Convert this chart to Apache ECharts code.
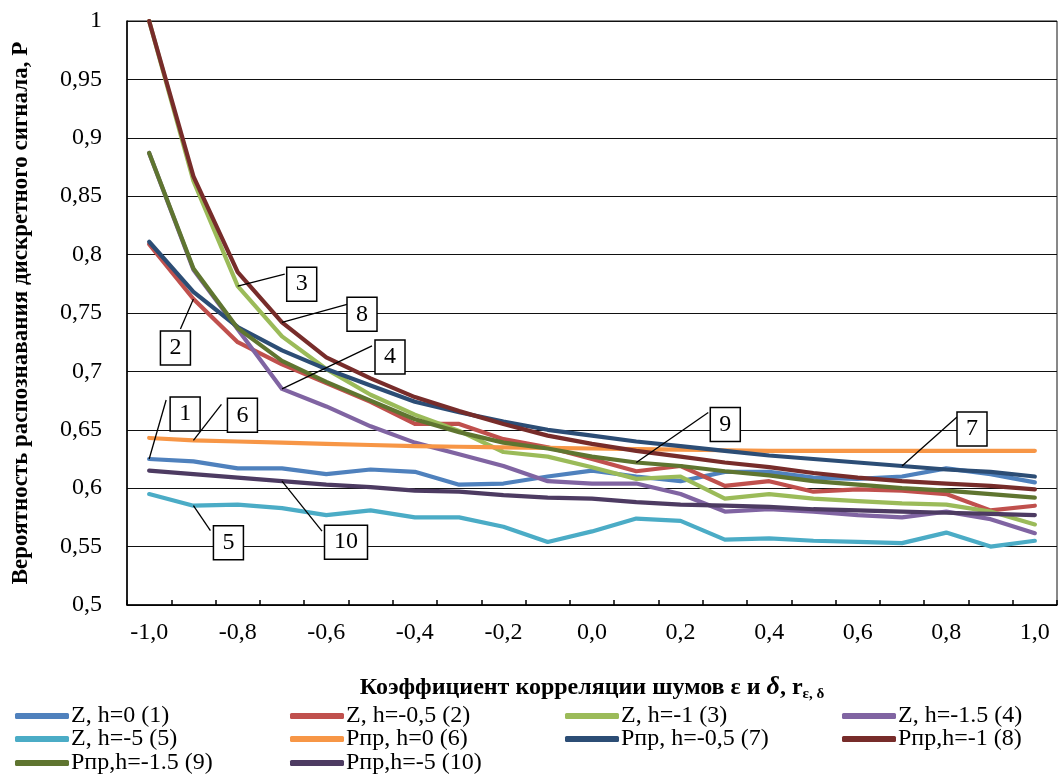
<!DOCTYPE html>
<html>
<head>
<meta charset="utf-8">
<script src="https://cdn.jsdelivr.net/npm/echarts@6/dist/echarts.min.js"></script>
<style>
  html, body { margin: 0; padding: 0; background: #fff; }
  #main { width: 1059px; height: 778px; }
</style>
</head>
<body>
<div id="main"></div>
<script>
var categories = ['-1,0', '-0,9', '-0,8', '-0,7', '-0,6', '-0,5', '-0,4', '-0,3', '-0,2', '-0,1',
  '0,0', '0,1', '0,2', '0,3', '0,4', '0,5', '0,6', '0,7', '0,8', '0,9', '1,0'];

var z_h0 = [0.625, 0.623, 0.617, 0.617, 0.612, 0.616, 0.614, 0.603, 0.604, 0.610, 0.615,
  0.610, 0.606, 0.614, 0.614, 0.609, 0.608, 0.610, 0.617, 0.612, 0.605];
var z_h05 = [0.809, 0.762, 0.725, 0.706, 0.690, 0.674, 0.655, 0.655, 0.642, 0.635, 0.625,
  0.6145, 0.619, 0.602, 0.606, 0.597, 0.599, 0.598, 0.595, 0.581, 0.585];
var z_h1 = [1.0, 0.863, 0.773, 0.730, 0.702, 0.680, 0.663, 0.649, 0.631, 0.627, 0.618,
  0.608, 0.610, 0.591, 0.595, 0.591, 0.589, 0.587, 0.586, 0.580, 0.569];
var z_h15 = [0.887, 0.787, 0.736, 0.685, 0.670, 0.653, 0.639, 0.629, 0.619, 0.606, 0.604,
  0.604, 0.595, 0.580, 0.582, 0.580, 0.577, 0.575, 0.580, 0.5735, 0.5615];
var z_h5 = [0.595, 0.585, 0.586, 0.583, 0.577, 0.581, 0.575, 0.575, 0.567, 0.554, 0.563,
  0.574, 0.572, 0.556, 0.557, 0.555, 0.554, 0.553, 0.562, 0.550, 0.555];
var p_h0 = [0.643, 0.641, 0.640, 0.639, 0.638, 0.637, 0.636, 0.6355, 0.635, 0.6345, 0.634,
  0.6335, 0.633, 0.6325, 0.632, 0.632, 0.632, 0.632, 0.632, 0.632, 0.632];
var p_h05 = [0.811, 0.768, 0.738, 0.718, 0.702, 0.688, 0.674, 0.665, 0.657, 0.650, 0.645,
  0.640, 0.636, 0.632, 0.628, 0.625, 0.622, 0.619, 0.616, 0.614, 0.610];
var p_h1 = [1.0, 0.867, 0.785, 0.742, 0.712, 0.694, 0.678, 0.666, 0.655, 0.645, 0.638,
  0.632, 0.627, 0.622, 0.618, 0.613, 0.609, 0.606, 0.604, 0.602, 0.599];
var p_h15 = [0.887, 0.788, 0.737, 0.709, 0.691, 0.675, 0.659, 0.648, 0.639, 0.634, 0.627,
  0.622, 0.619, 0.6145, 0.611, 0.606, 0.603, 0.600, 0.598, 0.595, 0.592];
var p_h5 = [0.615, 0.612, 0.609, 0.606, 0.603, 0.601, 0.598, 0.597, 0.594, 0.592, 0.591,
  0.588, 0.586, 0.585, 0.584, 0.582, 0.581, 0.580, 0.579, 0.578, 0.577];

var seriesNames = ['Z, h=0 (1)', 'Z, h=-0,5 (2)', 'Z, h=-1 (3)', 'Z, h=-1.5 (4)', 'Z, h=-5 (5)',
  'Pпр, h=0 (6)', 'Pпр, h=-0,5 (7)', 'Pпр,h=-1 (8)', 'Pпр,h=-1.5 (9)', 'Pпр,h=-5 (10)'];
var seriesData = [z_h0, z_h05, z_h1, z_h15, z_h5, p_h0, p_h05, p_h1, p_h15, p_h5];
var colors = ['#4F81BD', '#C0504D', '#9BBB59', '#8064A2', '#4BACC6',
  '#F79646', '#2C4D75', '#772C2A', '#5F7530', '#4D3B62'];

// callout boxes: label, series, point index, box centre offset, leader end offset
var callouts = [
  { text: '1', s: 0, i: 0, bx: 36, by: -45, lx: 17, ly: -59 },
  { text: '6', s: 5, i: 1, bx: 49, by: -25, lx: 28, ly: -36 },
  { text: '5', s: 4, i: 1, bx: 35, by: 37, lx: 17, ly: 25 },
  { text: '10', s: 9, i: 3, bx: 64, by: 61, lx: 40, ly: 50 },
  { text: '2', s: 1, i: 1, bx: -18, by: 49, lx: -13, ly: 30 },
  { text: '3', s: 2, i: 2, bx: 64, by: -2, lx: 47, ly: -12 },
  { text: '8', s: 7, i: 3, bx: 80, by: -8, lx: 65, ly: -18 },
  { text: '4', s: 3, i: 3, bx: 108, by: -32, lx: 90, ly: -43 },
  { text: '9', s: 8, i: 11, bx: 89, by: -38, lx: 72, ly: -50 },
  { text: '7', s: 6, i: 17, bx: 70, by: -37, lx: 55, ly: -49 }
];

var FONT = '"Liberation Serif", "Times New Roman", serif';

var legendCols = [15, 290, 565, 842];
var legendRows = [704, 727, 751];
var legends = seriesNames.map(function(name, k) {
  return {
    left: legendCols[k % 4],
    top: legendRows[Math.floor(k / 4)],
    data: [name],
    icon: 'roundRect',
    itemWidth: 54,
    itemHeight: 6,
    itemGap: 0,
    padding: 0,
    textStyle: { fontFamily: FONT, fontSize: 24, color: '#000', padding: [0, 0, 0, -3] }
  };
});

var myChart = echarts.init(document.getElementById('main'));

var option = {
  backgroundColor: '#fff',
  animation: false,
  color: colors,
  legend: legends,
  grid: {
    left: 127, right: 2, top: 21, bottom: 173,
    show: true, borderColor: '#111', borderWidth: 1
  },
  xAxis: {
    type: 'category',
    data: categories,
    boundaryGap: true,
    name: 'Коэффициент корреляции шумов ε и {it|δ}, r{sub|ε, δ}',
    nameLocation: 'middle',
    nameGap: 68,
    nameTextStyle: {
      fontFamily: FONT, fontSize: 24, fontWeight: 'bold', color: '#000',
      rich: {
        it: { fontFamily: FONT, fontSize: 26, fontStyle: 'italic', fontWeight: 'bold', color: '#000' },
        sub: { fontFamily: FONT, fontSize: 15, fontWeight: 'bold', color: '#000', padding: [14, 0, 0, 0] }
      }
    },
    axisLine: { lineStyle: { color: '#000', width: 1.5 } },
    axisTick: { show: true, inside: true, length: 5, interval: 0, lineStyle: { color: '#000', width: 1.5 } },
    axisLabel: { interval: 1, margin: 16, fontFamily: FONT, fontSize: 24, color: '#000' },
    splitLine: { show: false }
  },
  yAxis: {
    type: 'value',
    min: 0.5,
    max: 1,
    interval: 0.05,
    name: 'Вероятность распознавания дискретного сигнала, P',
    nameLocation: 'middle',
    nameGap: 94,
    nameTextStyle: { fontFamily: FONT, fontSize: 23, fontWeight: 'bold', color: '#000' },
    axisLine: { show: true, lineStyle: { color: '#000', width: 1.5 } },
    axisTick: { show: false },
    axisLabel: {
      margin: 25, fontFamily: FONT, fontSize: 24, color: '#000',
      formatter: function(v) { return String(Math.round(v * 100) / 100).replace('.', ','); }
    },
    splitLine: { show: true, lineStyle: { color: '#111', width: 1.2 } }
  },
  series: seriesNames.map(function(name, k) {
    return {
      name: name,
      type: 'line',
      data: seriesData[k],
      symbol: 'none',
      smooth: false,
      lineStyle: { width: 4.2, color: colors[k], cap: 'round', join: 'round' },
      itemStyle: { color: colors[k] }
    };
  })
};

myChart.setOption(option);

var elements = [];
callouts.forEach(function(c) {
  var p = myChart.convertToPixel({ xAxisIndex: 0, yAxisIndex: 0 }, [c.i, seriesData[c.s][c.i]]);
  var w = c.text.length > 1 ? 43 : 30;
  var h = 34;
  elements.push({
    type: 'line', silent: true, z: 100,
    shape: { x1: p[0], y1: p[1], x2: p[0] + c.lx, y2: p[1] + c.ly },
    style: { stroke: '#000', lineWidth: 1.3 }
  });
  elements.push({
    type: 'rect', silent: true, z: 101,
    shape: { x: p[0] + c.bx - w / 2, y: p[1] + c.by - h / 2, width: w, height: h },
    style: { fill: '#fff', stroke: '#000', lineWidth: 1.5 }
  });
  elements.push({
    type: 'text', silent: true, z: 102,
    x: p[0] + c.bx, y: p[1] + c.by,
    style: { text: c.text, font: '24px ' + FONT, fill: '#000', align: 'center', verticalAlign: 'middle' }
  });
});
myChart.setOption({ graphic: { elements: elements } });
</script>
</body>
</html>
